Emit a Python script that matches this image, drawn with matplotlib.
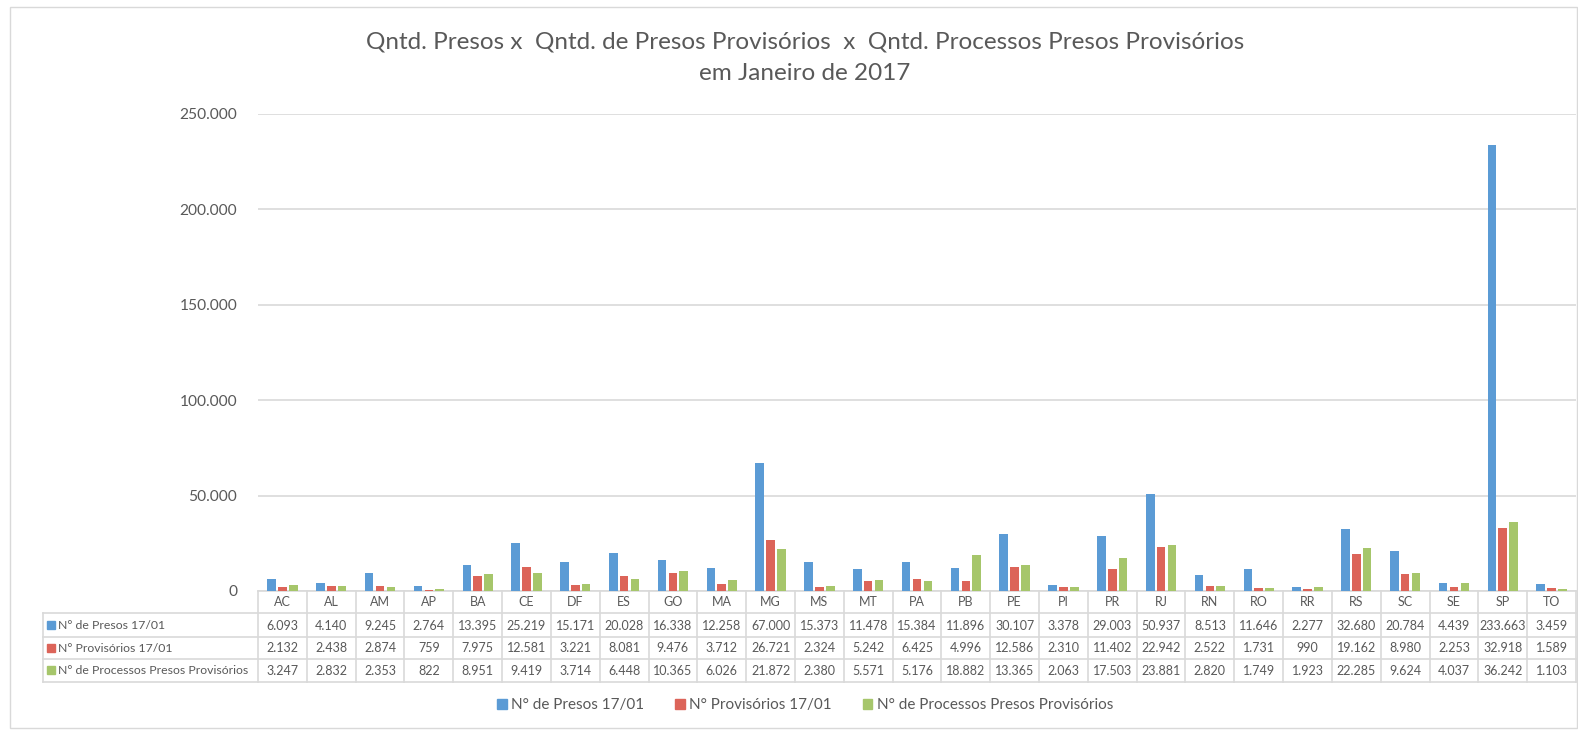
import matplotlib
matplotlib.use("Agg")
import matplotlib.pyplot as plt
from matplotlib.patches import Patch, Rectangle
from matplotlib.transforms import blended_transform_factory

plt.rcParams['font.family'] = ['Lato', 'DejaVu Sans']

categories = ["AC", "AL", "AM", "AP", "BA", "CE", "DF", "ES", "GO", "MA", "MG", "MS", "MT",
              "PA", "PB", "PE", "PI", "PR", "RJ", "RN", "RO", "RR", "RS", "SC", "SE", "SP", "TO"]
presos = [6093, 4140, 9245, 2764, 13395, 25219, 15171, 20028, 16338, 12258, 67000, 15373, 11478,
          15384, 11896, 30107, 3378, 29003, 50937, 8513, 11646, 2277, 32680, 20784, 4439, 233663, 3459]
provisorios = [2132, 2438, 2874, 759, 7975, 12581, 3221, 8081, 9476, 3712, 26721, 2324, 5242,
               6425, 4996, 12586, 2310, 11402, 22942, 2522, 1731, 990, 19162, 8980, 2253, 32918, 1589]
processos = [3247, 2832, 2353, 822, 8951, 9419, 3714, 6448, 10365, 6026, 21872, 2380, 5571,
             5176, 18882, 13365, 2063, 17503, 23881, 2820, 1749, 1923, 22285, 9624, 4037, 36242, 1103]
series_names = ["N° de Presos 17/01", "N° Provisórios 17/01", "N° de Processos Presos Provisórios"]
series_values = [presos, provisorios, processos]
colors = ["#5B9BD5", "#DC6459", "#A6C66B"]
yticks = [0, 50000, 100000, 150000, 200000, 250000]
title_lines = ["Qntd. Presos x  Qntd. de Presos Provisórios  x  Qntd. Processos Presos Provisórios",
               "em Janeiro de 2017"]

W, H = 1578, 730
fig = plt.figure(figsize=(W / 100, H / 100), dpi=100)
fig.patch.set_facecolor("white")

# pixel geometry
px0, px1 = 258, 1576
py_top, py_bot = 114, 591
grid_c = "#D9D9D9"
text_c = "#595959"

# overlay axes in pixel coords
ov = fig.add_axes([0, 0, 1, 1])
ov.set_xlim(0, W)
ov.set_ylim(H, 0)
ov.axis("off")
ov.add_patch(Rectangle((10, 7), 1567, 721, fill=False, edgecolor=grid_c, lw=1))

ax = fig.add_axes([px0 / W, 1 - py_bot / H, (px1 - px0) / W, (py_bot - py_top) / H])
n = len(categories)
xs = list(range(n))
offs = [-0.222, 0.0, 0.222]
bw = 0.176
for vals, off, c in zip(series_values, offs, colors):
    ax.bar([x + off for x in xs], vals, width=bw, color=c, zorder=3)
ax.set_xlim(-0.5, n - 0.5)
ax.set_ylim(0, 250000)
ax.set_yticks(yticks)
ax.set_yticklabels([f"{v:,}".replace(",", ".") for v in yticks], color=text_c, fontsize=11.2)
ax.tick_params(axis="y", length=0, pad=15)
ax.set_xticks([])
for s in ax.spines.values():
    s.set_visible(False)
ax.yaxis.grid(True, color=grid_c, lw=1.2, zorder=0)
ax.set_facecolor("none")

# data table
tr = blended_transform_factory(ax.transData, ov.transData)
row_y = [591, 613, 637, 659, 682]
ov.plot([px0, px1], [591, 591], color=grid_c, lw=1.2)
for y in row_y[1:]:
    ov.plot([43, px1], [y, y], color=grid_c, lw=1.2)
ov.plot([43, 43], [613, 682], color=grid_c, lw=1.2)
for i in range(n + 1):
    ov.plot([i - 0.5, i - 0.5], [591, 682], color=grid_c, lw=1.2, transform=tr)
for i, cat in enumerate(categories):
    ov.text(i, (row_y[0] + row_y[1]) / 2, cat, transform=tr, ha="center", va="center",
            fontsize=9, color=text_c)
    for r, vals in enumerate(series_values):
        ov.text(i, (row_y[r + 1] + row_y[r + 2]) / 2 + 0.5, f"{vals[i]:,}".replace(",", "."),
                transform=tr, ha="center", va="center", fontsize=9, color=text_c)
for r, (name, c) in enumerate(zip(series_names, colors)):
    yc = (row_y[r + 1] + row_y[r + 2]) / 2
    ov.add_patch(Rectangle((47.5, yc - 4.5), 8, 8, color=c))
    ov.text(58, yc + 0.5, name, ha="left", va="center", fontsize=8.8, color=text_c)

# title
ov.text(805, 42, title_lines[0], ha="center", va="center", fontsize=17.5, color=text_c)
ov.text(805, 73, title_lines[1], ha="center", va="center", fontsize=17.5, color=text_c)

# legend
handles = [Patch(color=c, label=nm) for c, nm in zip(colors, series_names)]
fig.legend(handles=handles, loc="center", bbox_to_anchor=(805 / W, 1 - 705 / H), ncol=3,
           frameon=False, handlelength=0.65, handleheight=0.65, handletextpad=0.3,
           columnspacing=2.0, prop={"size": 11}, labelcolor=text_c)

fig.savefig("out.png", dpi=100, facecolor="white")
